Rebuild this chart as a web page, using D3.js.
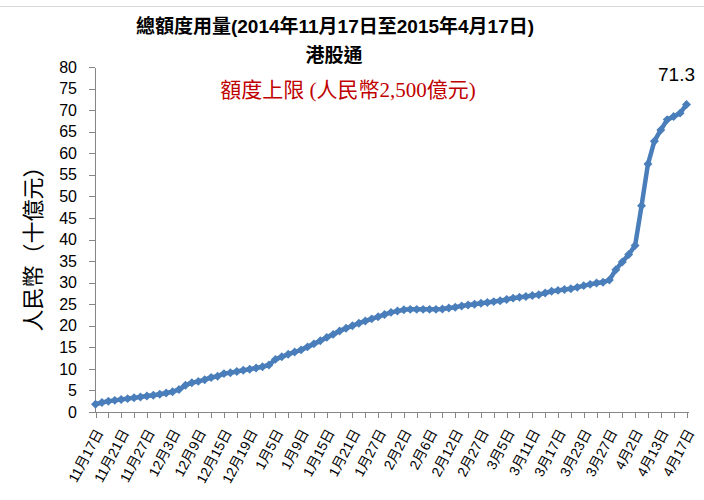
<!DOCTYPE html>
<html>
<head>
<meta charset="utf-8">
<title>港股通 總額度用量</title>
<script src="https://d3js.org/d3.v7.min.js"></script>
<style>
    body {
        margin: 0;
        background: #fff;
    }
    svg text {
        fill: #000;
    }
    .axis path,
    .axis line {
        stroke: #868686;
        stroke-width: 1px;
        shape-rendering: crispEdges;
    }
    .axis text {
        font-family: "Liberation Sans", Arial, "Noto Sans CJK TC", sans-serif;
        font-size: 16px;
    }
    .xlab {
        font-family: "Liberation Sans", Arial, "Noto Sans CJK TC", sans-serif;
        font-size: 14px;
    }
</style>
</head>
<body>
<div id="chart"></div>
<script>
    // 每 4 個交易日一個標籤 (11月17日 ... 4月17日)
    const tickLabels = [
        '11月17日', '11月21日', '11月27日', '12月3日', '12月9日', '12月15日',
        '12月19日', '1月5日', '1月9日', '1月15日', '1月21日', '1月27日',
        '2月2日', '2月6日', '2月12日', '2月27日', '3月5日', '3月11日',
        '3月17日', '3月23日', '3月27日', '4月2日', '4月13日', '4月17日'
    ];

    // 累計額度用量 (人民幣十億元), 每個交易日一點
    const usage = [
        1.8, 2.2, 2.5, 2.7, 2.9, 3.1, 3.3, 3.5, 3.7, 3.9,
        4.1, 4.4, 4.7, 5.2, 6.2, 6.8, 7.1, 7.5, 8.0, 8.3,
        8.9, 9.1, 9.4, 9.7, 9.9, 10.2, 10.5, 10.9, 12.2, 12.8,
        13.4, 13.9, 14.4, 15.1, 15.8, 16.5, 17.3, 18.0, 18.8, 19.4,
        20.0, 20.6, 21.1, 21.6, 22.1, 22.6, 23.1, 23.4, 23.7, 23.8,
        23.8, 23.8, 23.8, 23.8, 23.9, 24.1, 24.3, 24.6, 24.8, 25.0,
        25.2, 25.4, 25.6, 25.8, 26.1, 26.4, 26.6, 26.8, 27.0, 27.2,
        27.6, 28.0, 28.2, 28.4, 28.6, 28.9, 29.3, 29.6, 29.9, 30.1,
        30.6, 33.0, 34.8, 36.5, 38.6, 47.8, 57.5, 62.8, 65.4, 67.8,
        68.5, 69.3, 71.3
    ];

    const yTicks = d3.range(0, 81, 5);

    const width = 704,
        height = 500,
        plotLeft = 95.5,
        plotRight = 686.5,
        plotTop = 67,
        plotBottom = 412;

    const labelStep = 4;

    const svg = d3.select('#chart').append('svg')
        .attr('width', width)
        .attr('height', height);

    // chart area top border
    svg.append('line')
        .attr('x1', 0).attr('x2', width)
        .attr('y1', 6.5).attr('y2', 6.5)
        .style('stroke', '#d9d9d9');

    const x = d3.scalePoint()
        .domain(d3.range(usage.length))
        .range([plotLeft, plotRight]);

    const y = d3.scaleLinear()
        .domain([0, 80])
        .range([plotBottom, plotTop]);

    // y axis
    svg.append('g')
        .attr('class', 'axis')
        .attr('transform', `translate(${plotLeft - 0.5},0)`)
        .call(d3.axisLeft(y).tickValues(yTicks).tickSize(6).tickSizeOuter(0).tickPadding(12));

    // x axis (tick every 2 points, label every 4)
    const xAxis = svg.append('g')
        .attr('class', 'axis')
        .attr('transform', `translate(0,${plotBottom + 0.5})`)
        .call(d3.axisBottom(x)
            .tickValues(d3.range(0, usage.length, 2))
            .tickSize(5)
            .tickSizeOuter(0)
            .tickFormat(''));
    xAxis.select('.domain').attr('d', `M${plotLeft - 0.5},0H${plotRight + 2}`);

    svg.append('g').selectAll('text')
        .data(tickLabels)
        .join('text')
        .attr('class', 'xlab')
        .attr('text-anchor', 'end')
        .attr('dy', '0.35em')
        .attr('transform', (d, i) => `translate(${x(i * labelStep) + 4},${plotBottom + 18}) rotate(-62)`)
        .text(d => d);

    // y axis title
    svg.append('text')
        .attr('transform', `translate(33,${(plotTop + plotBottom) / 2 + 4}) rotate(-90)`)
        .attr('text-anchor', 'middle')
        .attr('dy', '0.35em')
        .style('font-family', '"Noto Sans CJK TC", sans-serif')
        .style('font-size', '22px')
        .text('人民幣（十億元）');

    // line + markers
    const line = d3.line()
        .x((d, i) => x(i))
        .y(d => y(d));

    svg.append('path')
        .datum(usage)
        .attr('d', line)
        .style('fill', 'none')
        .style('stroke', '#4a7ebb')
        .style('stroke-width', 4.5)
        .style('stroke-linejoin', 'round');

    const diamond = d3.symbol().type(d3.symbolSquare).size(40);

    svg.append('g').selectAll('path')
        .data(usage)
        .join('path')
        .attr('d', diamond)
        .attr('transform', (d, i) => `translate(${x(i)},${y(d)}) rotate(45)`)
        .style('fill', '#4a7ebb');

    // last point label
    const last = usage.length - 1;
    svg.append('text')
        .attr('x', x(last) - 10)
        .attr('y', y(usage[last]) - 24)
        .attr('text-anchor', 'middle')
        .style('font-family', '"Liberation Sans", Arial, sans-serif')
        .style('font-size', '19px')
        .text(usage[last].toFixed(1));

    // titles
    const titleFont = '"Liberation Sans", Arial, "Noto Sans CJK TC", sans-serif';
    svg.append('text')
        .attr('x', 335).attr('y', 33)
        .attr('text-anchor', 'middle')
        .style('font-family', titleFont)
        .style('font-weight', 'bold')
        .style('font-size', '19px')
        .text('總額度用量(2014年11月17日至2015年4月17日)');

    svg.append('text')
        .attr('x', 334).attr('y', 62)
        .attr('text-anchor', 'middle')
        .style('font-family', titleFont)
        .style('font-weight', 'bold')
        .style('font-size', '19px')
        .text('港股通');

    svg.append('text')
        .attr('x', 348).attr('y', 97)
        .attr('text-anchor', 'middle')
        .style('font-family', '"Liberation Serif", "Times New Roman", "Noto Sans CJK TC", serif')
        .style('font-size', '21px')
        .style('fill', '#c00000')
        .text('額度上限 (人民幣2,500億元)');
</script>
</body>
</html>
